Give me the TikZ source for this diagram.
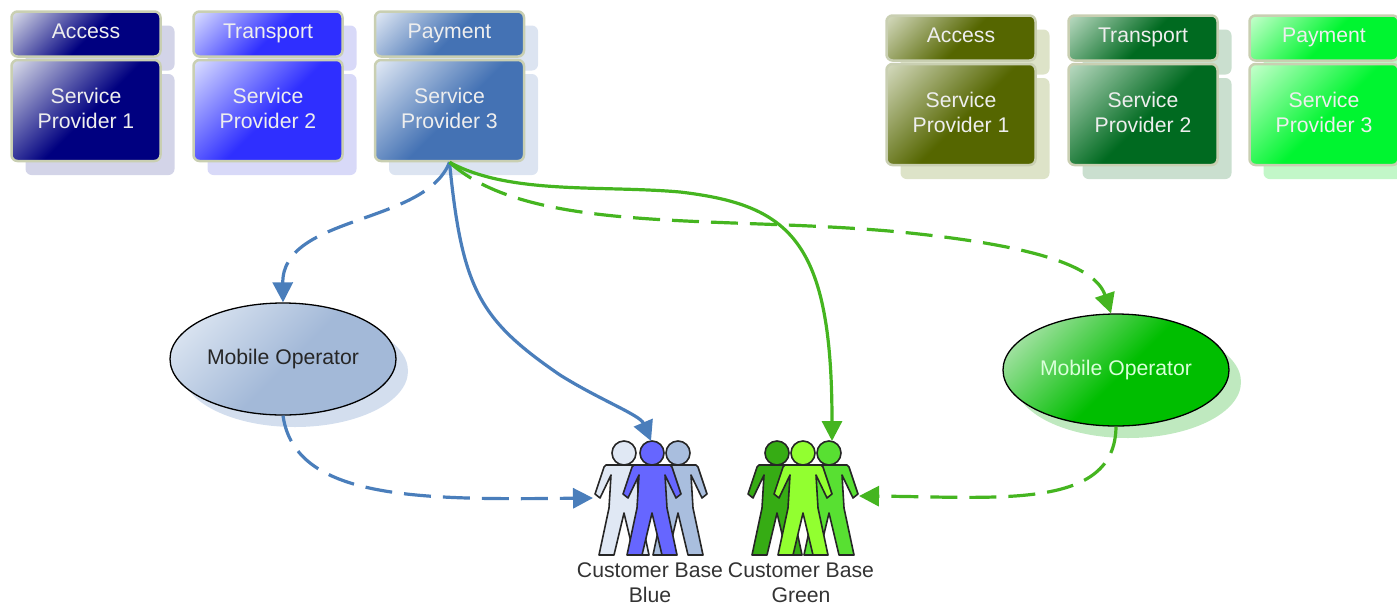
\documentclass[tikz,border=0pt]{standalone}
\usepackage{fontspec}
\setmainfont{Liberation Sans}
\usetikzlibrary{arrows.meta,shapes.geometric,shadows}
\definecolor{blueline}{HTML}{4A7EBB}
\definecolor{greenline}{HTML}{45B520}
\definecolor{rim}{HTML}{C9CFB2}
\newcommand{\mkshade}[4]{%
  \definecolor{#1lt}{HTML}{#2}\definecolor{#1dk}{HTML}{#3}\definecolor{#1sh}{HTML}{#4}%
  \pgfdeclareverticalshading{#1}{100bp}{color(0bp)=(#1dk); color(48bp)=(#1dk); color(84bp)=(#1lt); color(100bp)=(#1lt)}}
\mkshade{navy}{D4D7E6}{000080}{D3D4E8}
\mkshade{royal}{D6DAFF}{2F2FFF}{D8D9F8}
\mkshade{steel}{DDE6F3}{4472B4}{DCE4F1}
\mkshade{olive}{D0D6B8}{556600}{DDE3C8}
\mkshade{forest}{B4D6BC}{006A20}{CADFCF}
\mkshade{lime}{C0FFC8}{00F530}{C2F7C8}
\mkshade{opblue}{E6EDF6}{A3B9D8}{D3DEEE}
\mkshade{opgreen}{C8EAC8}{00BE00}{BFE9BF}
\definecolor{pa}{HTML}{E0E8F4}
\definecolor{pb}{HTML}{A9BEDE}
\definecolor{pc}{HTML}{6666FF}
\definecolor{pd}{HTML}{36AC14}
\definecolor{pe}{HTML}{58E032}
\definecolor{pf}{HTML}{92FF30}
\tikzset{
  x=1pt,y=-1pt,
  txt/.style={font=\fontsize{21.2}{25}\selectfont,align=center,text=#1},
  tile/.style n args={2}{rectangle,rounded corners=6pt,draw=rim,line width=2.5pt,
    shading=#1,shading angle=45,minimum width=149pt,inner sep=0pt,
    general shadow={shadow xshift=14pt,shadow yshift=-14pt,fill=#1sh,draw=none},
    txt=#2},
  headtile/.style={tile={#1}{white!87!gray},minimum height=45pt,text height=15pt,text depth=6pt},
  bodytile/.style={tile={#1}{white!87!gray},minimum height=101pt,text depth=4pt},
  oper/.style n args={2}{ellipse,draw=black,line width=1.3pt,minimum width=226pt,minimum height=112pt,inner sep=0pt,
    shading=#1,shading angle=45,
    general shadow={shadow xshift=12pt,shadow yshift=-12pt,fill=#1sh,draw=none},
    txt=#2},
  bluelink/.style={draw=blueline,line width=3.2pt,-{Triangle[length=20pt,width=20pt]}},
  greenlink/.style={draw=greenline,line width=3.2pt,-{Triangle[length=20pt,width=20pt]}},
  dashlink/.style={dash pattern=on 27pt off 12pt},
  figure/.style={draw=black!85,line width=1.6pt,line join=round,fill=#1},
  caption/.style={txt=black!80}
}
\newcommand{\person}[3]{%
  \begin{scope}[shift={(#1,#2)}]
    \path[figure=#3] (0,12) -- (18,12) -- (20,14) -- (29,41) -- (24,45) -- (13,22) -- (15,55) -- (25,102)
      -- (10,102) -- (0,60) -- (-10,102) -- (-25,102) -- (-15,55) -- (-13,22) -- (-24,45) -- (-29,41) -- (-20,14) -- (-18,12) -- cycle;
    \path[figure=#3] (0,0) circle (12);
  \end{scope}}
\begin{document}
\begin{tikzpicture}
\useasboundingbox (0,0) rectangle (1397,606);
% left group
\node[headtile=navy] (a1) at (86,34) {Access};
\node[bodytile=navy] (s1) at (86,110.5) {Service\\Provider 1};
\node[headtile=royal] (a2) at (268,34) {Transport};
\node[bodytile=royal] (s2) at (268,110.5) {Service\\Provider 2};
\node[headtile=steel] (a3) at (449.5,34) {Payment};
\node[bodytile=steel] (s3) at (449.5,110.5) {Service\\Provider 3};
% right group
\node[headtile=olive] (b1) at (961,38) {Access};
\node[bodytile=olive] (t1) at (961,114.5) {Service\\Provider 1};
\node[headtile=forest] (b2) at (1143,38) {Transport};
\node[bodytile=forest] (t2) at (1143,114.5) {Service\\Provider 2};
\node[headtile=lime] (b3) at (1324,38) {Payment};
\node[bodytile=lime] (t3) at (1324,114.5) {Service\\Provider 3};
% operators
\node[oper={opblue}{black!85}] (mL) at (283,359) {Mobile Operator};
\node[oper={opgreen}{green!15!white}] (mR) at (1116,370) {Mobile Operator};
% people
\person{624}{453}{pa}
\person{678}{453}{pb}
\person{652}{453}{pc}
\person{777}{453}{pd}
\person{829}{453}{pe}
\person{803}{453}{pf}
\node[caption] (cb) at (650,583) {Customer Base\\Blue};
\node[caption] (cg) at (801,583) {Customer Base\\Green};
\coordinate (bt) at (651,441);
\coordinate (bl) at (593,498);
\coordinate (gt) at (832,441);
\coordinate (gr) at (859,496);
% connectors
\draw[bluelink,dashlink] (s3.south) .. controls (425,225) and (282,215) .. (mL.north);
\draw[bluelink] (s3.south) .. controls (462,290) and (480,320) .. (560,375) .. controls (600,400) and (640,415) .. (bt);
\draw[greenlink] (s3.south) .. controls (510,195) and (600,185) .. (680,192) .. controls (790,205) and (832,240) .. (gt);
\draw[greenlink,dashlink] (s3.south) .. controls (530,235) and (720,215) .. (900,232) .. controls (1030,245) and (1095,265) .. (mR.95);
\draw[bluelink,dashlink] (mL.south) .. controls (295,500) and (420,500) .. (bl);
\draw[greenlink,dashlink] (mR.south) .. controls (1115,510) and (1000,497) .. (gr);
\end{tikzpicture}
\end{document}
